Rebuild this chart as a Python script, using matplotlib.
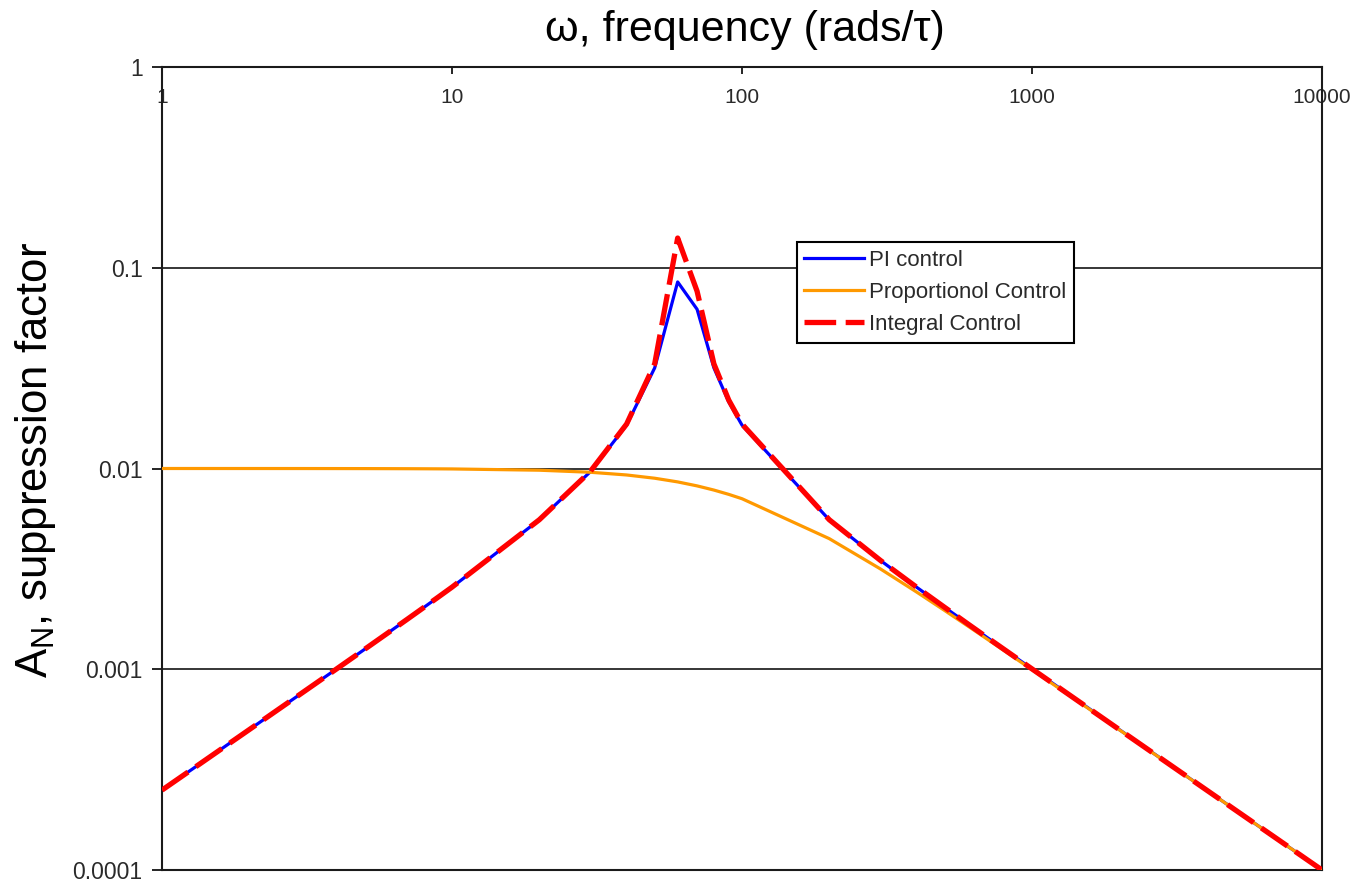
import matplotlib
matplotlib.use("Agg")
import matplotlib.pyplot as plt
from matplotlib.ticker import FixedLocator, FixedFormatter, NullLocator

plt.rcParams['font.family'] = ['Liberation Sans', 'DejaVu Sans']
plt.rcParams['mathtext.default'] = 'regular'

# frequency samples (rads/tau)
freq = [1, 2, 3, 4, 5, 6, 7, 8, 9, 10,
        20, 30, 40, 50, 60, 70, 80, 90, 100,
        200, 300, 400, 500, 600, 700, 800, 900, 1000,
        2000, 3000, 4000, 5000, 6000, 7000, 8000, 9000, 10000]

pi_control = [2.50e-4, 5.005e-4, 7.52e-4, 1.004e-3, 1.258e-3, 1.514e-3, 1.772e-3, 2.033e-3, 2.297e-3, 2.563e-3,
              5.548e-3, 9.635e-3, 0.01645, 0.03172, 0.0850, 0.0621, 0.03172, 0.02147, 0.01645,
              5.548e-3, 3.486e-3, 2.563e-3, 2.033e-3, 1.685e-3, 1.440e-3, 1.258e-3, 1.117e-3, 1.004e-3,
              5.005e-4, 3.335e-4, 2.501e-4, 2.000e-4, 1.667e-4, 1.429e-4, 1.250e-4, 1.111e-4, 1.000e-4]

prop_control = [0.01, 0.009998, 0.009996, 0.009992, 0.009988, 0.009982, 0.009976, 0.009968, 0.009960, 0.009950,
                0.009806, 0.009578, 0.009285, 0.008944, 0.008575, 0.008192, 0.007809, 0.007433, 0.007071,
                0.004472, 0.003162, 0.002425, 0.001961, 0.001644, 0.001414, 0.001240, 0.001104, 0.000995,
                4.994e-4, 3.331e-4, 2.499e-4, 2.000e-4, 1.667e-4, 1.428e-4, 1.250e-4, 1.111e-4, 1.000e-4]

int_control = [2.50e-4, 5.005e-4, 7.52e-4, 1.004e-3, 1.258e-3, 1.514e-3, 1.772e-3, 2.033e-3, 2.297e-3, 2.564e-3,
               5.555e-3, 9.675e-3, 0.01665, 0.03322, 0.1406, 0.0764, 0.03322, 0.02192, 0.01665,
               5.555e-3, 3.487e-3, 2.563e-3, 2.033e-3, 1.685e-3, 1.440e-3, 1.258e-3, 1.117e-3, 1.004e-3,
               5.005e-4, 3.335e-4, 2.501e-4, 2.000e-4, 1.667e-4, 1.429e-4, 1.250e-4, 1.111e-4, 1.000e-4]

x_ticks = [1, 10, 100, 1000, 10000]
x_tick_labels = ['1', '10', '100', '1000', '10000']
y_ticks = [0.0001, 0.001, 0.01, 0.1, 1]
y_tick_labels = ['0.0001', '0.001', '0.01', '0.1', '1']
grid_levels = [0.001, 0.01, 0.1]

fig = plt.figure(figsize=(13.59, 8.84), dpi=100)
ax = fig.add_axes([162 / 1359, 1 - 870 / 884, (1322 - 162) / 1359, (870 - 67) / 884])

ax.set_xscale('log')
ax.set_yscale('log')
ax.set_xlim(1, 10000)
ax.set_ylim(0.0001, 1)

for g in grid_levels:
    ax.axhline(g, color='black', lw=1.1, zorder=0.5)

ax.plot(freq, pi_control, color='#0000FF', lw=2.3, label='PI control', zorder=2)
ax.plot(freq, prop_control, color='#FF9900', lw=2.3, label='Proportionol Control', zorder=3)
ax.plot(freq, int_control, color='#FF0000', lw=3.8, dashes=(6.0, 1.8),
        label='Integral Control', zorder=4)

for s in ax.spines.values():
    s.set_linewidth(1.5)
    s.set_color('#1a1a1a')

ax.xaxis.set_major_locator(FixedLocator(x_ticks))
ax.xaxis.set_major_formatter(FixedFormatter(x_tick_labels))
ax.xaxis.set_minor_locator(NullLocator())
ax.yaxis.set_major_locator(FixedLocator(y_ticks))
ax.yaxis.set_major_formatter(FixedFormatter(y_tick_labels))
ax.yaxis.set_minor_locator(NullLocator())

ax.tick_params(axis='x', top=True, bottom=False, labeltop=True, labelbottom=False,
               direction='in', length=5, width=1.2, pad=-29, labelsize=15, labelcolor='#2a2a2a')
ax.tick_params(axis='y', left=True, right=False, direction='out', length=7, width=1.2,
               pad=7, labelsize=16.5, labelcolor='#2a2a2a')

fig.text(745 / 1359, 1 - 30 / 884, 'ω, frequency (rads/τ)', ha='center', va='center',
         fontsize=31, color='black')
fig.text(36 / 1359, 1 - 460 / 884, r'A$_{N}$, suppression factor', ha='center', va='center',
         rotation=90, fontsize=31.5, color='black')

leg = ax.legend(loc='upper left', bbox_to_anchor=(0.547, 0.782), borderaxespad=0,
                fancybox=False, frameon=True, fontsize=16, handlelength=2.7,
                handletextpad=0.2, labelspacing=0.5, borderpad=0.35)
leg.get_frame().set_edgecolor('black')
leg.get_frame().set_linewidth(1.5)
leg.get_frame().set_alpha(1)
for t in leg.get_texts():
    t.set_color('#2a2a2a')
leg.set_zorder(10)

fig.savefig('out.png', dpi=100)
